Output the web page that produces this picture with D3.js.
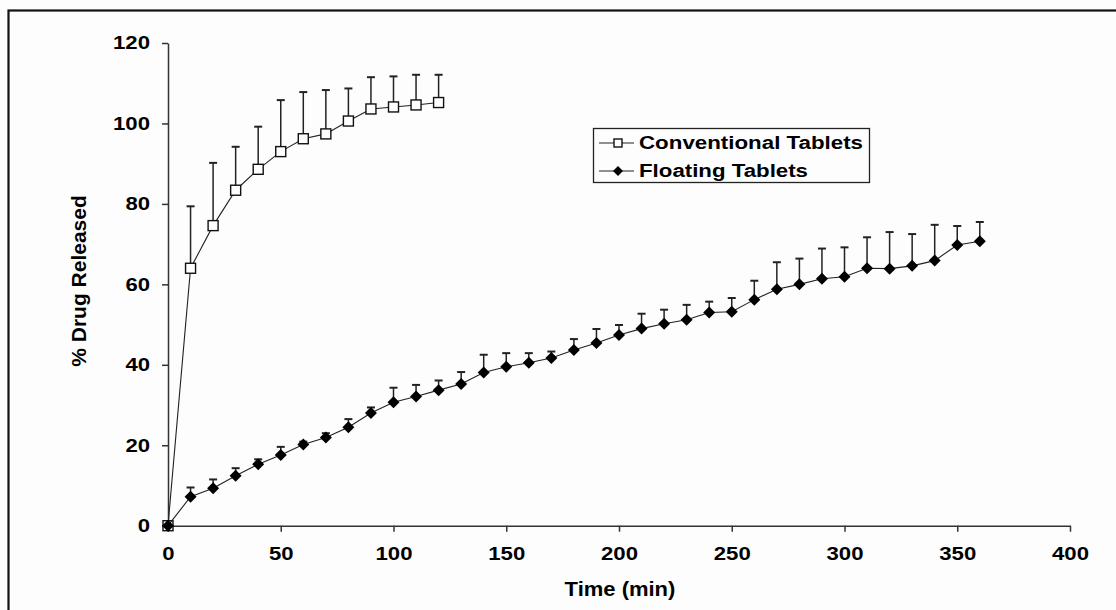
<!DOCTYPE html>
<html><head><meta charset="utf-8">
<script src="https://cdn.jsdelivr.net/npm/d3@7"></script>
<style>body{margin:0;background:#fdfdfd;}svg{display:block;}</style>
</head><body>
<script>
const convTime = [0,10,20,30,40,50,60,70,80,90,100,110,120];
const convMean = [0,64.0,74.6,83.4,88.6,93.0,96.2,97.4,100.6,103.6,104.1,104.6,105.2];
const convUpper = [0,79.4,90.2,94.2,99.2,105.8,107.8,108.3,108.7,111.5,111.7,112.1,112.1];

const floatTime = [0,10,20,30,40,50,60,70,80,90,100,110,120,130,140,150,160,170,180,190,200,210,220,230,240,250,260,270,280,290,300,310,320,330,340,350,360];
const floatMean = [0,7.2,9.3,12.4,15.3,17.6,20.2,21.9,24.5,28.0,30.7,32.1,33.7,35.2,38.1,39.5,40.5,41.7,43.7,45.4,47.4,49.0,50.2,51.2,53.0,53.2,56.2,58.8,60.0,61.4,61.9,64.0,63.9,64.6,65.9,69.8,70.7];
const floatUpper = [0,9.5,11.5,14.3,16.5,19.6,20.9,23.0,26.5,29.4,34.3,35.0,36.1,38.2,42.5,42.9,42.9,43.3,46.4,48.9,49.9,52.7,53.7,54.9,55.7,56.6,60.9,65.5,66.4,68.9,69.2,71.7,73.0,72.5,74.8,74.5,75.5];

const xTicks = [0,50,100,150,200,250,300,350,400];
const yTicks = [0,20,40,60,80,100,120];
const seriesNames = ["Conventional Tablets","Floating Tablets"];

const W = 1116, H = 610;
const svg = d3.select("body").append("svg").attr("width", W).attr("height", H);
const font = "Arial, 'Liberation Sans', sans-serif";

function stretch(sel, s){
  sel.each(function(){
    const L = this.getComputedTextLength();
    this.setAttribute("textLength", (L*s).toFixed(1));
    this.setAttribute("lengthAdjust","spacingAndGlyphs");
  });
}

// outer frame
svg.append("rect").attr("x",8.5).attr("y",10.5).attr("width",W+20).attr("height",H+20)
  .attr("fill","#fdfdfd").attr("stroke","#111").attr("stroke-width",2.2);

const x = d3.scaleLinear().domain([0,400]).range([168,1070]);
const y = d3.scaleLinear().domain([0,120]).range([525.7,43]);

// axes
const xAxis = svg.append("g").attr("transform",`translate(0,${y(0)})`)
  .call(d3.axisBottom(x).tickValues(xTicks).tickSize(6).tickSizeOuter(0).tickPadding(16));
const yAxis = svg.append("g").attr("transform",`translate(${x(0)},0)`)
  .call(d3.axisLeft(y).tickValues(yTicks).tickSize(6).tickSizeOuter(0).tickPadding(12));
[xAxis,yAxis].forEach(a=>{
  a.select(".domain").attr("stroke","#333").attr("stroke-width",1.5);
  a.selectAll(".tick line").attr("stroke","#333").attr("stroke-width",1.5);
  a.selectAll(".tick text").attr("font-family",font).attr("font-weight","bold")
    .attr("font-size",18).attr("fill","#000");
  stretch(a.selectAll(".tick text"), 1.23);
});
xAxis.selectAll(".tick text").attr("dy","0.71em");

// axis titles
const xt = svg.append("text").attr("x",620).attr("y",596).attr("text-anchor","middle")
  .attr("font-family",font).attr("font-weight","bold").attr("font-size",20).text("Time (min)");
stretch(xt, 1.1);
svg.append("text").attr("transform","translate(86,281) rotate(-90)").attr("text-anchor","middle")
  .attr("font-family",font).attr("font-weight","bold").attr("font-size",21).text("% Drug Released");

const line = d3.line().x(d=>x(d[0])).y(d=>y(d[1]));
function drawSeries(times, means, uppers, marker){
  const pts = times.map((t,i)=>[t,means[i],uppers[i]]);
  const g = svg.append("g");
  pts.filter(p=>p[2]>p[1]).forEach(p=>{
    g.append("line").attr("x1",x(p[0])).attr("x2",x(p[0])).attr("y1",y(p[1])).attr("y2",y(p[2]))
      .attr("stroke","#222").attr("stroke-width",1.5);
    g.append("line").attr("x1",x(p[0])-4).attr("x2",x(p[0])+4).attr("y1",y(p[2])).attr("y2",y(p[2]))
      .attr("stroke","#222").attr("stroke-width",2);
  });
  g.append("path").datum(pts).attr("d",line).attr("fill","none").attr("stroke","#222").attr("stroke-width",1.1);
  pts.forEach(p=>marker(g, x(p[0]), y(p[1])));
}
function square(g,cx,cy,s=10){
  g.append("rect").attr("x",cx-s/2).attr("y",cy-s/2).attr("width",s).attr("height",s)
    .attr("fill","#fff").attr("stroke","#111").attr("stroke-width",1.4);
}
function diamond(g,cx,cy,r=6){
  g.append("path").attr("d",`M${cx},${cy-r}L${cx+r},${cy}L${cx},${cy+r}L${cx-r},${cy}Z`).attr("fill","#000");
}
drawSeries(convTime, convMean, convUpper, square);
drawSeries(floatTime, floatMean, floatUpper, diamond);

// legend
const lg = svg.append("g");
lg.append("rect").attr("x",593.5).attr("y",128.5).attr("width",276).attr("height",54)
  .attr("fill","#fdfdfd").attr("stroke","#222").attr("stroke-width",1.3);
const ly = [143, 171];
const lw = [224, 169];
[square, diamond].forEach((m,i)=>{
  lg.append("line").attr("x1",599).attr("x2",634).attr("y1",ly[i]).attr("y2",ly[i]).attr("stroke","#222").attr("stroke-width",1.1);
  if(i===0) m(lg,618,ly[i],8); else m(lg,618,ly[i],5);
  lg.append("text").attr("x",639).attr("y",ly[i]+6).attr("font-family",font).attr("font-weight","bold")
    .attr("font-size",18).attr("textLength",lw[i]).attr("lengthAdjust","spacingAndGlyphs").text(seriesNames[i]);
});
</script>
</body></html>
